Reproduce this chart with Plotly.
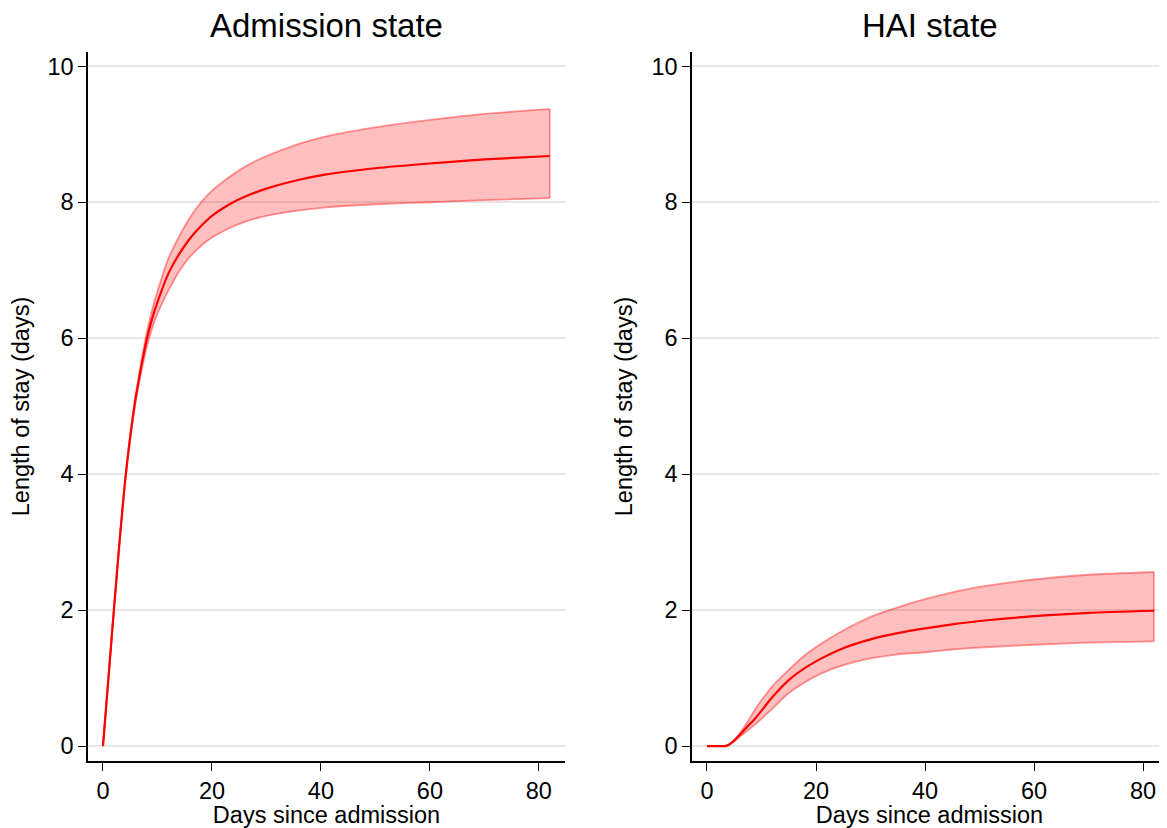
import plotly.graph_objects as go

# ---- Data: Admission state ----
adm_days = [0, 1, 2, 3, 3.5, 4, 4.5, 5, 5.5, 6, 7, 8, 9, 10, 12, 14, 16, 18, 20, 23, 26, 30, 36, 41, 50, 60, 70, 82]
adm_mean = [0, 1.0, 2.0, 2.97, 3.42, 3.85, 4.22, 4.55, 4.85, 5.12, 5.57, 5.97, 6.28, 6.53, 6.95, 7.24, 7.47, 7.65, 7.8, 7.96, 8.08, 8.2, 8.33, 8.41, 8.5, 8.57, 8.63, 8.68]
adm_lower = [0, 1.0, 1.99, 2.96, 3.41, 3.84, 4.2, 4.52, 4.81, 5.07, 5.49, 5.86, 6.14, 6.36, 6.7, 6.99, 7.2, 7.36, 7.48, 7.61, 7.71, 7.8, 7.88, 7.925, 7.97, 8.0, 8.03, 8.06]
adm_upper = [0, 1.0, 2.01, 2.98, 3.43, 3.86, 4.24, 4.58, 4.89, 5.17, 5.65, 6.07, 6.41, 6.69, 7.17, 7.5, 7.78, 8.0, 8.17, 8.36, 8.52, 8.68, 8.86, 8.97, 9.1, 9.21, 9.3, 9.37]

# ---- Data: HAI state ----
hai_days = [0, 2, 3.3, 4, 5, 7, 9, 12, 15, 18, 21, 25, 30, 35, 40, 45, 50, 60, 70, 82]
hai_mean = [0, 0, 0, 0.02, 0.08, 0.25, 0.42, 0.72, 0.97, 1.15, 1.29, 1.44, 1.57, 1.66, 1.73, 1.79, 1.84, 1.91, 1.96, 1.99]
hai_upper = [0, 0, 0, 0.02, 0.09, 0.3, 0.56, 0.88, 1.12, 1.34, 1.51, 1.7, 1.9, 2.04, 2.16, 2.26, 2.34, 2.45, 2.52, 2.56]
hai_lower = [0, 0, 0, 0.02, 0.07, 0.2, 0.33, 0.55, 0.78, 0.94, 1.07, 1.19, 1.29, 1.35, 1.38, 1.42, 1.45, 1.49, 1.52, 1.54]

titles = ["Admission state", "HAI state"]
x_ticks = [0, 20, 40, 60, 80]
y_ticks = [0, 2, 4, 6, 8, 10]

FONT = "Arial, Liberation Sans, sans-serif"
OFF = 8  # the page body margin
W, H = 1167 - OFF, 828 - OFF
BAND_EDGE = "rgba(255,0,0,0.4)"
BAND_FILL = "rgba(255,0,0,0.25)"
FS = 23.5

fig = go.Figure()


def add_panel(days, mean, lower, upper, xa, ya):
    fig.add_trace(go.Scatter(
        x=days, y=lower, mode="lines",
        line=dict(color=BAND_EDGE, width=1.8, shape="spline", smoothing=0.6),
        hoverinfo="skip", showlegend=False, xaxis=xa, yaxis=ya))
    fig.add_trace(go.Scatter(
        x=days, y=upper, mode="lines", fill="tonexty", fillcolor=BAND_FILL,
        line=dict(color=BAND_EDGE, width=1.8, shape="spline", smoothing=0.6),
        hoverinfo="skip", showlegend=False, xaxis=xa, yaxis=ya))
    # closing edge of the band at the last day
    fig.add_trace(go.Scatter(
        x=[days[-1], days[-1]], y=[lower[-1], upper[-1]], mode="lines",
        line=dict(color=BAND_EDGE, width=1.8),
        hoverinfo="skip", showlegend=False, xaxis=xa, yaxis=ya))
    fig.add_trace(go.Scatter(
        x=days, y=mean, mode="lines",
        line=dict(color="#ff0000", width=2.2, shape="spline", smoothing=0.6),
        showlegend=False, xaxis=xa, yaxis=ya))


add_panel(adm_days, adm_mean, adm_lower, adm_upper, "x", "y")
add_panel(hai_days, hai_mean, hai_lower, hai_upper, "x2", "y2")


def px_x(rx):
    return (rx - OFF) / W


def px_y(ry):
    return 1 - (ry - OFF) / H


y_dom = [px_y(761), px_y(52)]
x_dom1 = [px_x(88), px_x(565)]
x_dom2 = [px_x(692), 1.0]

xcommon = dict(
    tickvals=x_ticks, showline=True, linecolor="black", linewidth=1.5,
    ticks="outside", ticklen=8, tickwidth=1.3, tickcolor="black",
    showgrid=False, zeroline=False, automargin=False,
    tickfont=dict(size=FS, color="black"),
    title=dict(text="Days since admission", font=dict(size=FS, color="black"), standoff=2),
)
ycommon = dict(
    tickvals=y_ticks, range=[-0.22, 10.21], domain=y_dom,
    showline=True, linecolor="black", linewidth=1.5,
    ticks="outside", ticklen=8, tickwidth=1.3, tickcolor="black",
    showgrid=True, gridcolor="#e6e6e6", gridwidth=1.5, zeroline=False,
    automargin=False, tickfont=dict(size=FS, color="black"),
    title=dict(text="Length of stay (days)", font=dict(size=FS, color="black"), standoff=12),
)

fig.update_layout(
    width=W, height=H,
    margin=dict(l=0, r=0, t=0, b=0),
    paper_bgcolor="white", plot_bgcolor="white",
    font=dict(family=FONT, color="black"),
    xaxis=dict(xcommon, domain=x_dom1, range=[-2.75, 84.8], anchor="y"),
    yaxis=dict(ycommon, anchor="x"),
    xaxis2=dict(xcommon, domain=x_dom2, range=[-2.75, 84.4], anchor="y2"),
    yaxis2=dict(ycommon, anchor="x2"),
    annotations=[
        dict(text=titles[0], x=(x_dom1[0] + x_dom1[1]) / 2, y=px_y(25), xref="paper", yref="paper",
             showarrow=False, font=dict(size=33, color="black"), xanchor="center", yanchor="middle"),
        dict(text=titles[1], x=(x_dom2[0] + x_dom2[1]) / 2, y=px_y(25), xref="paper", yref="paper",
             showarrow=False, font=dict(size=33, color="black"), xanchor="center", yanchor="middle"),
    ],
)

fig.write_html("out.html")
